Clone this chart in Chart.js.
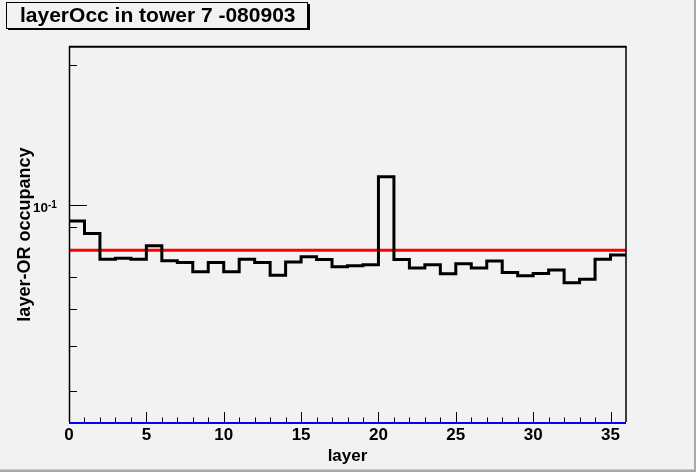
<!DOCTYPE html>
<html>
<head>
<meta charset="utf-8">
<style>
  html, body { margin: 0; padding: 0; background: #f2f2f2; }
  canvas { display: block; }
</style>
<script src="https://cdn.jsdelivr.net/npm/chart.js@4/dist/chart.umd.min.js"></script>
</head>
<body>
<canvas id="c" width="696" height="472"></canvas>
<script>
// ---- data ----
const chartTitle = 'layerOcc in tower 7 -080903';
const xTitle = 'layer';
const yTitle = 'layer-OR occupancy';
const layers = [0,1,2,3,4,5,6,7,8,9,10,11,12,13,14,15,16,17,18,19,20,21,22,23,24,25,26,27,28,29,30,31,32,33,34,35];
const occupancy = [0.0925,0.0870,0.0766,0.0770,0.0766,0.0819,0.0760,0.0754,0.0720,0.0754,
                   0.0720,0.0766,0.0754,0.0708,0.0755,0.0775,0.0765,0.0738,0.0742,0.0745,
                   0.1151,0.0765,0.0733,0.0745,0.0713,0.0749,0.0733,0.0759,0.0717,0.0706,
                   0.0714,0.0726,0.0682,0.0694,0.0766,0.0782];
const meanLevel = 0.0801;     // red reference line
const lowerLevel = 0.0341;    // blue reference line
const yMin = 0.0341, yMax = 0.2194;
const xMin = 0, xMax = 36;
const xTickValues = [0,5,10,15,20,25,30,35];
const yLabelValues = [0.1];
const yLabelBases = ['10'];
const yLabelExponents = ['-1'];
const yMinorTickValues = [0.04,0.05,0.06,0.07,0.08,0.09,0.2];

const FONT = '"Liberation Sans", Arial, Helvetica, sans-serif';
Chart.defaults.font.family = FONT;
Chart.defaults.color = '#000';

const upperEdge = layers[layers.length - 1] + 1;
const histPoints = layers.map((x, i) => ({x: x, y: occupancy[i]}));
histPoints.push({x: upperEdge, y: occupancy[occupancy.length - 1]});

const decor = {
  id: 'rootDecor',
  beforeDraw(chart) {
    const ctx = chart.ctx;
    const W = chart.width, H = chart.height;
    ctx.save();
    ctx.fillStyle = '#f2f2f2';
    ctx.fillRect(0, 0, W, H);
    // pad bevel (right / bottom)
    ctx.fillStyle = '#a8a8a8';
    ctx.fillRect(W - 2, 0, 2, H);
    ctx.fillRect(0, H - 2.5, W, 2.5);
    // title box with shadow
    ctx.fillStyle = '#000';
    ctx.fillRect(8, 28, 302, 2);
    ctx.fillRect(308, 4, 2, 26);
    ctx.strokeStyle = '#000';
    ctx.lineWidth = 1;
    ctx.fillStyle = '#f2f2f2';
    ctx.fillRect(6.5, 2.5, 301, 26);
    ctx.strokeRect(6.5, 2.5, 301, 26);
    ctx.restore();
  },
  beforeDatasetsDraw(chart) {
    const ctx = chart.ctx;
    const a = chart.chartArea;
    const xs = chart.scales.x, ys = chart.scales.y;
    ctx.save();
    ctx.strokeStyle = '#000';
    ctx.lineWidth = 1;
    ctx.beginPath();
    // x ticks (inside)
    for (let v = xMin; v < xMax; v++) {
      const px = Math.round(xs.getPixelForValue(v)) + 0.5;
      const len = (v % 5 === 0) ? 11 : 5.5;
      ctx.moveTo(px, a.bottom);
      ctx.lineTo(px, a.bottom - len);
    }
    // y ticks (inside)
    yLabelValues.forEach(v => {
      const py = Math.round(ys.getPixelForValue(v)) + 0.5;
      ctx.moveTo(a.left, py); ctx.lineTo(a.left + 18, py);
    });
    yMinorTickValues.forEach(v => {
      const py = Math.round(ys.getPixelForValue(v)) + 0.5;
      ctx.moveTo(a.left, py); ctx.lineTo(a.left + 8, py);
    });
    ctx.stroke();
    ctx.restore();
  },
  afterDatasetsDraw(chart) {
    const ctx = chart.ctx;
    const a = chart.chartArea;
    const ys = chart.scales.y;
    ctx.save();
    ctx.strokeStyle = '#000';
    // frame
    ctx.lineWidth = 1.5;
    ctx.beginPath();
    ctx.moveTo(a.left + 0.5, a.bottom - 1);
    ctx.lineTo(a.left + 0.5, a.top);
    ctx.stroke();
    ctx.lineWidth = 2;
    ctx.beginPath();
    ctx.moveTo(a.left, a.top + 0.5);
    ctx.lineTo(a.right + 0.5, a.top + 0.5);
    ctx.stroke();
    ctx.lineWidth = 1.5;
    ctx.beginPath();
    ctx.moveTo(a.right, a.top);
    ctx.lineTo(a.right, a.bottom - 1);
    ctx.stroke();
    // exponent of the y labels (superscript)
    ctx.fillStyle = '#000';
    ctx.font = 'bold 10px ' + FONT;
    ctx.textAlign = 'left';
    ctx.textBaseline = 'alphabetic';
    yLabelValues.forEach((v, i) => {
      const py = ys.getPixelForValue(v);
      ctx.fillText(yLabelExponents[i], a.left - 21, py + 2.5);
    });
    ctx.restore();
  }
};

new Chart(document.getElementById('c'), {
  type: 'line',
  data: {
    datasets: [
      {
        label: 'occupancy',
        data: histPoints,
        stepped: true,
        borderColor: '#000',
        borderWidth: 3,
        pointRadius: 0,
        fill: false,
        borderJoinStyle: 'miter',
        borderCapStyle: 'square'
      },
      {
        label: 'mean',
        data: [{x: xMin, y: meanLevel}, {x: xMax, y: meanLevel}],
        borderColor: '#ff0000',
        borderWidth: 3,
        pointRadius: 0,
        fill: false
      },
      {
        label: 'lower',
        data: [{x: xMin, y: lowerLevel}, {x: xMax, y: lowerLevel}],
        borderColor: '#0000ff',
        borderWidth: 2,
        pointRadius: 0,
        fill: false,
        clip: false
      }
    ]
  },
  options: {
    responsive: false,
    animation: false,
    devicePixelRatio: 1,
    layout: { padding: { left: 20, right: 70, top: 0, bottom: 0 } },
    plugins: {
      legend: { display: false },
      tooltip: { enabled: false },
      title: {
        display: true,
        text: chartTitle,
        align: 'start',
        color: '#000',
        font: { size: 21, weight: 'bold' },
        padding: { top: 4, bottom: 17 }
      }
    },
    scales: {
      x: {
        type: 'linear',
        min: xMin,
        max: xMax,
        grid: { display: false, drawTicks: false },
        border: { display: false },
        afterBuildTicks(scale) { scale.ticks = xTickValues.map(v => ({value: v})); },
        afterFit(scale) { scale.height = 49; },
        ticks: {
          autoSkip: false,
          maxRotation: 0,
          padding: 2.5,
          color: '#000',
          font: { size: 17, weight: 'bold' }
        },
        title: {
          display: true,
          text: xTitle,
          color: '#000',
          font: { size: 17, weight: 'bold' },
          padding: { top: 0, bottom: 5 }
        }
      },
      y: {
        type: 'logarithmic',
        min: yMin,
        max: yMax,
        grid: { display: false, drawTicks: false },
        border: { display: false },
        afterBuildTicks(scale) { scale.ticks = yLabelValues.map(v => ({value: v})); },
        afterFit(scale) { scale.width = 49; },
        ticks: {
          autoSkip: false,
          padding: 21,
          labelOffset: 3,
          color: '#000',
          font: { size: 13.5, weight: 'bold' },
          callback(v) {
            const i = yLabelValues.indexOf(v);
            return i >= 0 ? yLabelBases[i] : '';
          }
        },
        title: {
          display: true,
          text: yTitle,
          color: '#000',
          font: { size: 18, weight: 'bold' },
          padding: { top: -6, bottom: 0 }
        }
      }
    }
  },
  plugins: [decor]
});
</script>
</body>
</html>
